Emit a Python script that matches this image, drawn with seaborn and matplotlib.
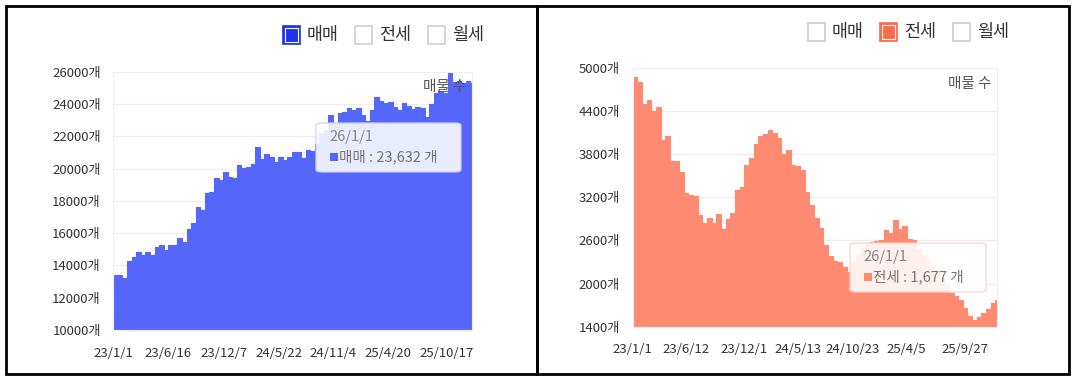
import numpy as np
import pandas as pd
import matplotlib.pyplot as plt
import seaborn as sns
from matplotlib.patches import FancyBboxPatch, Rectangle

# 매물 수 (2주 간격, 23/1/1 ~ 26/1/1)
dates = list(pd.date_range('2023-01-01', periods=79, freq='14D')) + [pd.Timestamp('2026-01-01')]

sale = [13400, 13400, 13200, 14250, 14500, 14850, 14650, 14850, 14650, 15150,
        15250, 14950, 15250, 15250, 15680, 15450, 16250, 16600, 17640, 17430,
        18500, 18570, 19390, 19290, 19800, 19500, 19400, 20220, 20010, 20110,
        20300, 21310, 20600, 20900, 20740, 20430, 20740, 20530, 20700, 21000,
        21000, 20630, 21150, 21100, 21500, 22200, 22400, 23320, 22800, 23420,
        23530, 23730, 23630, 23730, 23320, 22950, 23630, 24450, 24200, 24040,
        24100, 23800, 23630, 24040, 23900, 23700, 23800, 23730, 23200, 24000,
        24700, 24800, 24700, 25900, 25350, 25400, 25300, 25400, 25300, 23632]

jeonse = [4880, 4800, 4500, 4560, 4400, 4460, 4000, 4050, 3700, 3700,
          3550, 3260, 3230, 3220, 2960, 2850, 2920, 2850, 2970, 2760,
          2900, 2980, 3300, 3350, 3650, 3750, 3950, 4060, 4080, 4140,
          4100, 4020, 3800, 3860, 3650, 3640, 3580, 3280, 3100, 2920,
          2780, 2540, 2380, 2320, 2300, 2230, 2160, 2300, 2400, 2500,
          2560, 2580, 2590, 2600, 2750, 2700, 2880, 2760, 2800, 2620,
          2600, 2480, 2400, 2320, 2230, 2170, 2080, 1960, 1870, 1830,
          1770, 1660, 1550, 1500, 1530, 1590, 1650, 1730, 1770, 1677]

sale_ticks = ['2023-01-01', '2023-06-16', '2023-12-07', '2024-05-22', '2024-11-04', '2025-04-20', '2025-10-17']
jeonse_ticks = ['2023-01-01', '2023-06-12', '2023-12-01', '2024-05-13', '2024-10-23', '2025-04-05', '2025-09-27']
sale_yticks = [10000, 12000, 14000, 16000, 18000, 20000, 22000, 24000, 26000]
jeonse_yticks = [1400, 2000, 2600, 3200, 3800, 4400, 5000]
legend_names = ['매매', '전세', '월세']

df = pd.DataFrame({'date': dates, 'sale': sale, 'jeonse': jeonse})

sns.set_style('white')
plt.rcParams['font.family'] = ['Noto Sans CJK KR', 'DejaVu Sans']

W, H = 1077, 380
fig = plt.figure(figsize=(W / 100, H / 100), dpi=100)


def fx(x):
    return x / W


def fy(y):
    return 1 - y / H


def draw_panel(rect, col, color, ymin, ymax, yticks, xticks, legend_idx, legend_colors, legend_x, legend_y):
    ax = fig.add_axes(rect)
    sns.lineplot(data=df, x='date', y=col, ax=ax, color=color, linewidth=0.8,
                 drawstyle='steps-post')
    ax.fill_between(df['date'], df[col], ymin, step='post', color=color, linewidth=0)
    ax.set_xlim(pd.Timestamp('2023-01-01'), pd.Timestamp('2026-01-01'))
    ax.set_ylim(ymin, ymax)
    ax.set_yticks(yticks)
    ax.set_yticklabels([f'{v}개' for v in yticks], fontsize=9.5, color='#333333')
    tk = pd.to_datetime(xticks)
    ax.set_xticks(tk)
    ax.set_xticklabels([f'{d.year % 100}/{d.month}/{d.day}' for d in tk], fontsize=9.5, color='#333333')
    ax.tick_params(axis='both', length=0)
    ax.tick_params(axis='y', pad=9)
    ax.tick_params(axis='x', pad=12)
    ax.grid(axis='y', color='#eeeeee', linewidth=0.9)
    ax.set_axisbelow(True)
    for s in ax.spines.values():
        s.set_color('#eeeeee')
        s.set_linewidth(0.8)
    ax.set_xlabel('')
    ax.set_ylabel('')
    ax.text(0.985, 0.94, '매물 수', transform=ax.transAxes, ha='right', va='center',
            fontsize=10.5, color='#555555')

    # 범례
    for i, name in enumerate(legend_names):
        bx = legend_x[i]
        fc = legend_colors[i] if i == legend_idx else 'white'
        ec = legend_colors[i] if i == legend_idx else '#c9cdd8'
        fig.patches.append(Rectangle((fx(bx), fy(legend_y + 9)), fx(17), 18 / H,
                                     transform=fig.transFigure, facecolor=fc,
                                     edgecolor=ec, linewidth=1.2))
        if i == legend_idx:
            fig.patches.append(Rectangle((fx(bx + 2), fy(legend_y + 7)), fx(13), 14 / H,
                                         transform=fig.transFigure, facecolor='none',
                                         edgecolor='white', linewidth=0.8))
        fig.text(fx(bx + 24), fy(legend_y), name, fontsize=12.5, color='#333333',
                 ha='left', va='center')
    return ax


ax1 = draw_panel([fx(113.3), 1 - 330 / H, 358.4 / W, 258.3 / H], 'sale', '#5566fa',
                 10000, 26000, sale_yticks, sale_ticks, 0,
                 ['#1f33ee', '#ff6a48', '#ff6a48'], [283, 355, 428], 35)
ax2 = draw_panel([fx(632.7), 1 - 326.7 / H, 364 / W, 258.6 / H], 'jeonse', '#ff8a72',
                 1400, 5000, jeonse_yticks, jeonse_ticks, 1,
                 ['#1f33ee', '#ff6a48', '#ff6a48'], [808, 880, 953], 32)


def tooltip(x0, y0, w, h, edge, sq, label, value):
    fig.patches.append(FancyBboxPatch((fx(x0), fy(y0 + h)), w / W, h / H,
                                      boxstyle='round,pad=0,rounding_size=0.006',
                                      transform=fig.transFigure, facecolor='white',
                                      alpha=0.88, edgecolor=edge, linewidth=1.0))
    fig.text(fx(x0 + 13), fy(y0 + 14), '26/1/1', fontsize=10.5, color='#888888',
             ha='left', va='center')
    fig.patches.append(Rectangle((fx(x0 + 14), fy(y0 + 38)), fx(8), 8 / H,
                                 transform=fig.transFigure, facecolor=sq, linewidth=0))
    fig.text(fx(x0 + 23), fy(y0 + 34), f'{label} : {value} 개', fontsize=10.5,
             color='#777777', ha='left', va='center')


tooltip(316, 123, 145, 49, '#c9d0f7', '#5566fa', '매매', '23,632')
tooltip(850, 243, 136, 49, '#ffd0c4', '#ff8a72', '전세', '1,677')

# 패널 테두리
fig.patches.append(Rectangle((fx(6), fy(374)), fx(531), 368 / H, transform=fig.transFigure,
                             facecolor='none', edgecolor='black', linewidth=2))
fig.patches.append(Rectangle((fx(537), fy(374)), fx(532), 368 / H, transform=fig.transFigure,
                             facecolor='none', edgecolor='black', linewidth=2))

fig.savefig('out.png', dpi=100)
